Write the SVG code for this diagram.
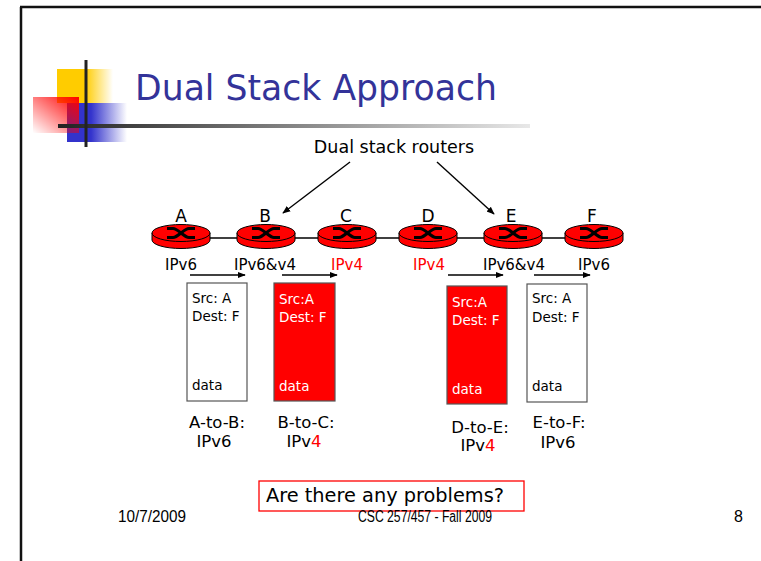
<svg xmlns="http://www.w3.org/2000/svg" width="761" height="561" viewBox="0 0 761 561">
<defs>
<style>
.cs{font-family:"Comic Sans MS","DejaVu Sans","Noto Sans",sans-serif;}
.lab{font-size:15px;fill:#000;text-anchor:middle;}
.big{font-size:16.5px;fill:#000;text-anchor:middle;}
.let{font-size:17px;fill:#000;text-anchor:middle;}
.red{fill:#ff0000;}
.pk{font-size:13.5px;}
.ft{font-family:"Liberation Sans Narrow","Liberation Sans",sans-serif;font-size:16px;fill:#000;}
.rt{fill:#ff0000;stroke:#000;stroke-width:1;}
.x{fill:none;stroke:#000;stroke-width:3;}
.ln{stroke:#000;stroke-width:1.4;fill:none;}
</style>
<linearGradient id="gy" x1="0" y1="0" x2="1" y2="0"><stop offset="0.5" stop-color="#ffcc00"/><stop offset="1" stop-color="#ffcc00" stop-opacity="0"/></linearGradient>
<linearGradient id="gb" x1="0" y1="0" x2="1" y2="0"><stop offset="0.4" stop-color="#3333cc"/><stop offset="1" stop-color="#3333cc" stop-opacity="0"/></linearGradient>
<linearGradient id="gr" x1="1" y1="0" x2="0" y2="1"><stop offset="0" stop-color="#ff0000"/><stop offset="1" stop-color="#ff0000" stop-opacity="0"/></linearGradient>
<linearGradient id="gl" x1="0" y1="0" x2="1" y2="0"><stop offset="0" stop-color="#222"/><stop offset="1" stop-color="#e8e8e8"/></linearGradient>
<marker id="ah" viewBox="0 0 10 10" refX="9" refY="5" markerWidth="8" markerHeight="8" orient="auto" markerUnits="userSpaceOnUse"><path d="M0,1 L10,5 L0,9 Z" fill="#000"/></marker>
<g id="router">
<path class="rt" d="M-29,0 L-29,7 A29 8.5 0 0 0 29 7 L29 0 Z"/>
<ellipse class="rt" cx="0" cy="0" rx="29" ry="8.5"/>
<path class="x" d="M-14,-4.5 L-8,-4.5 C-3,-4.5 3,4.5 8,4.5 L14,4.5 M-14,4.5 L-8,4.5 C-3,4.5 3,-4.5 8,-4.5 L14,-4.5"/>
</g>
</defs>
<rect width="761" height="561" fill="#fff"/>
<g id="frame">
<line x1="20" y1="7" x2="761" y2="7" stroke="#111" stroke-width="2.5"/>
<line x1="21" y1="7" x2="21" y2="561" stroke="#111" stroke-width="2.5"/>
</g>
<g id="decor">
<rect x="57" y="69" width="56" height="34" fill="url(#gy)"/>
<rect x="67" y="103" width="60" height="39" fill="url(#gb)"/>
<rect x="33" y="97" width="46" height="36" fill="url(#gr)"/>
<rect x="58" y="124" width="472" height="4" fill="url(#gl)"/>
<line x1="86" y1="60" x2="86" y2="147" stroke="#222" stroke-width="3"/>
</g>
<text id="title" class="cs" x="135" y="100" font-size="36" fill="#333399" textLength="362" lengthAdjust="spacingAndGlyphs">Dual Stack Approach</text>
<g id="connectors">
<line class="ln" x1="210" y1="238" x2="565" y2="238"/>
<line class="ln" x1="350" y1="162" x2="283" y2="213" marker-end="url(#ah)"/>
<line class="ln" x1="437" y1="162" x2="494" y2="214" marker-end="url(#ah)"/>
<line class="ln" x1="190" y1="275" x2="245" y2="275" marker-end="url(#ah)"/>
<line class="ln" x1="282" y1="275" x2="337" y2="275" marker-end="url(#ah)"/>
<line class="ln" x1="448" y1="275" x2="503" y2="275" marker-end="url(#ah)"/>
<line class="ln" x1="534" y1="275" x2="590" y2="275" marker-end="url(#ah)"/>
</g>
<text id="dsr" class="cs" x="394" y="153" font-size="17.5" text-anchor="middle">Dual stack routers</text>
<g id="rA"><use href="#router" x="181" y="233"/><text class="cs let" x="181" y="222">A</text><text class="cs lab" x="181" y="270">IPv6</text></g>
<g id="rB"><use href="#router" x="266" y="233"/><text class="cs let" x="265" y="222">B</text><text class="cs lab" x="265" y="270">IPv6&amp;v4</text></g>
<g id="rC"><use href="#router" x="347" y="233"/><text class="cs let" x="346" y="222">C</text><text class="cs lab red" x="347" y="270">IPv4</text></g>
<g id="rD"><use href="#router" x="428" y="233"/><text class="cs let" x="428" y="222">D</text><text class="cs lab red" x="429" y="270">IPv4</text></g>
<g id="rE"><use href="#router" x="513" y="233"/><text class="cs let" x="511" y="222">E</text><text class="cs lab" x="514" y="270">IPv6&amp;v4</text></g>
<g id="rF"><use href="#router" x="594" y="233"/><text class="cs let" x="592" y="222">F</text><text class="cs lab" x="594" y="270">IPv6</text></g>
<g id="p1">
<rect x="187" y="283" width="60" height="118" fill="#fff" stroke="#555" stroke-width="1.2"/>
<text class="cs pk" x="192" y="303">Src: A</text><text class="cs pk" x="192" y="321">Dest: F</text><text class="cs pk" x="192" y="390">data</text>
<text class="cs big" x="217" y="428">A-to-B:</text><text class="cs big" x="214" y="447">IPv6</text>
</g>
<g id="p2">
<rect x="274" y="283" width="61" height="118" fill="#ff0000" stroke="#555" stroke-width="1.2"/>
<text class="cs pk" x="279" y="304" fill="#fff">Src:A</text><text class="cs pk" x="279" y="322" fill="#fff">Dest: F</text><text class="cs pk" x="279" y="391" fill="#fff">data</text>
<text class="cs big" x="306" y="428">B-to-C:</text><text class="cs big" x="304" y="447">IPv<tspan class="red">4</tspan></text>
</g>
<g id="p3">
<rect x="447" y="286" width="60" height="118" fill="#ff0000" stroke="#555" stroke-width="1.2"/>
<text class="cs pk" x="452" y="307" fill="#fff">Src:A</text><text class="cs pk" x="452" y="325" fill="#fff">Dest: F</text><text class="cs pk" x="452" y="394" fill="#fff">data</text>
<text class="cs big" x="480" y="433">D-to-E:</text><text class="cs big" x="478" y="451">IPv<tspan class="red">4</tspan></text>
</g>
<g id="p4">
<rect x="527" y="284" width="60" height="118" fill="#fff" stroke="#555" stroke-width="1.2"/>
<text class="cs pk" x="532" y="303">Src: A</text><text class="cs pk" x="532" y="322">Dest: F</text><text class="cs pk" x="532" y="391">data</text>
<text class="cs big" x="559" y="428">E-to-F:</text><text class="cs big" x="558" y="448">IPv6</text>
</g>
<g id="q">
<rect x="259" y="481" width="265" height="30" fill="#fff" stroke="#ff0000" stroke-width="1.3"/>
<text class="cs" x="266" y="502" font-size="19" textLength="238" lengthAdjust="spacingAndGlyphs">Are there any problems?</text>
</g>
<g id="footer">
<text class="ft" x="118" y="522" textLength="68" lengthAdjust="spacingAndGlyphs">10/7/2009</text>
<text class="ft" x="358" y="522" textLength="134" lengthAdjust="spacingAndGlyphs">CSC 257/457 - Fall 2009</text>
<text class="ft" x="734" y="522">8</text>
</g>
</svg>
